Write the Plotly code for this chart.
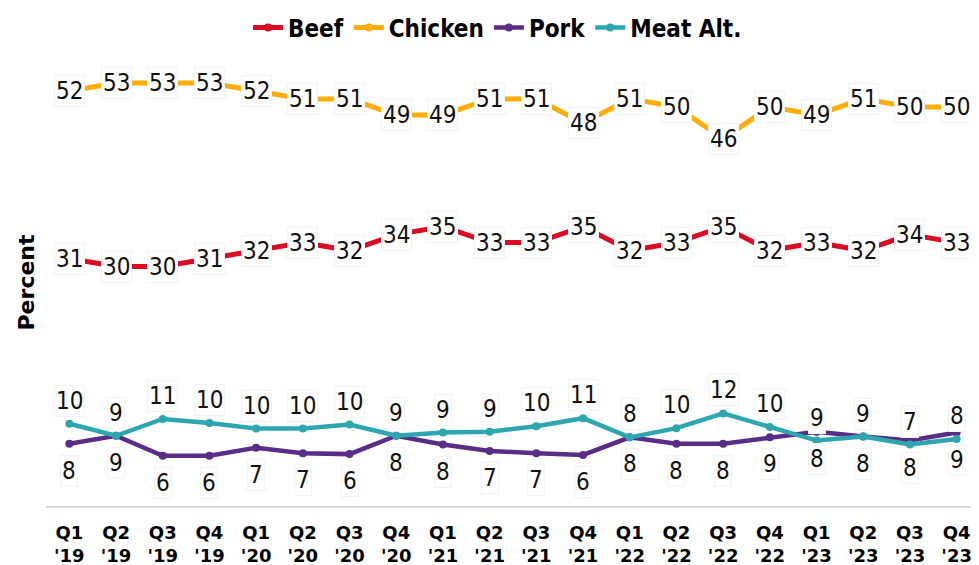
import plotly.graph_objects as go

categories = ["Q1<br>'19", "Q2<br>'19", "Q3<br>'19", "Q4<br>'19",
              "Q1<br>'20", "Q2<br>'20", "Q3<br>'20", "Q4<br>'20",
              "Q1<br>'21", "Q2<br>'21", "Q3<br>'21", "Q4<br>'21",
              "Q1<br>'22", "Q2<br>'22", "Q3<br>'22", "Q4<br>'22",
              "Q1<br>'23", "Q2<br>'23", "Q3<br>'23", "Q4<br>'23"]

beef = [31, 30, 30, 31, 32, 33, 32, 34, 35, 33, 33, 35, 32, 33, 35, 32, 33, 32, 34, 33]
chicken = [52, 53, 53, 53, 52, 51, 51, 49, 49, 51, 51, 48, 51, 50, 46, 50, 49, 51, 50, 50]
pork = [7.8, 8.8, 6.3, 6.3, 7.3, 6.6, 6.5, 8.8, 7.7, 6.9, 6.6, 6.4, 8.6, 7.8, 7.8, 8.6, 9.3, 8.7, 8.2, 9.2]
meat_alt = [10.3, 8.8, 10.9, 10.4, 9.7, 9.7, 10.2, 8.8, 9.2, 9.3, 10.0, 11.0, 8.6, 9.75, 11.6, 9.9, 8.2, 8.7, 7.7, 8.4]
pork_labels = [8, 9, 6, 6, 7, 7, 6, 8, 8, 7, 7, 6, 8, 8, 8, 9, 8, 8, 8, 9]
meat_alt_labels = [10, 9, 11, 10, 10, 10, 10, 9, 9, 9, 10, 11, 8, 10, 12, 10, 9, 9, 7, 8]

colors = {"Beef": "#dc0a22", "Chicken": "#ffad00", "Pork": "#592c88", "Meat Alt.": "#2ea6b0"}

fig = go.Figure()
for name, vals in [("Beef", beef), ("Chicken", chicken), ("Pork", pork), ("Meat Alt.", meat_alt)]:
    fig.add_trace(go.Scatter(
        x=categories, y=vals, name=name, mode="lines+markers",
        line=dict(color=colors[name], width=5 if name in ("Beef", "Chicken") else 4.5),
        marker=dict(size=8, color=colors[name]),
        hoverinfo="skip",
    ))

label_font = dict(family="DejaVu Sans Condensed, DejaVu Sans", size=24, color="#111111")
annotations = []

def add_labels(vals, labels, yshift):
    for c, v, t in zip(categories, vals, labels):
        annotations.append(dict(
            x=c, y=v, xref="x", yref="y", text=str(t), showarrow=False,
            yshift=yshift, font=label_font, bgcolor="white",
            bordercolor="#f3f3f3", borderwidth=1, borderpad=1,
        ))

add_labels(chicken, chicken, 0)
add_labels(beef, beef, 0)
add_labels(meat_alt, meat_alt_labels, 23)
add_labels(pork, pork_labels, -27)

fig.update_layout(
    width=979, height=565,
    margin=dict(l=38, r=7, t=51, b=60),
    paper_bgcolor="white", plot_bgcolor="white",
    showlegend=True,
    legend=dict(
        orientation="h", xref="container", yref="container",
        x=0.5, xanchor="center", y=0.965, yanchor="middle",
        font=dict(family="DejaVu Sans Condensed, DejaVu Sans", size=24, color="#000000", weight="bold"),
        itemwidth=30, tracegroupgap=0,
    ),
    annotations=annotations,
    xaxis=dict(
        type="category", range=[-0.5, 19.5], showline=True, linecolor="#d9d9d9",
        linewidth=2, showgrid=False, ticks="", zeroline=False,
        tickfont=dict(family="DejaVu Sans", size=18, color="#000000", weight="bold"),
        ticklabelstandoff=9,
    ),
    yaxis=dict(
        range=[0, 56], showline=False, showgrid=False, zeroline=False,
        showticklabels=False, ticks="",
        title=dict(text="Percent", standoff=4,
                   font=dict(family="DejaVu Sans", size=22, color="#000000", weight="bold")),
        automargin=False,
    ),
)

fig.write_html("out.html")
